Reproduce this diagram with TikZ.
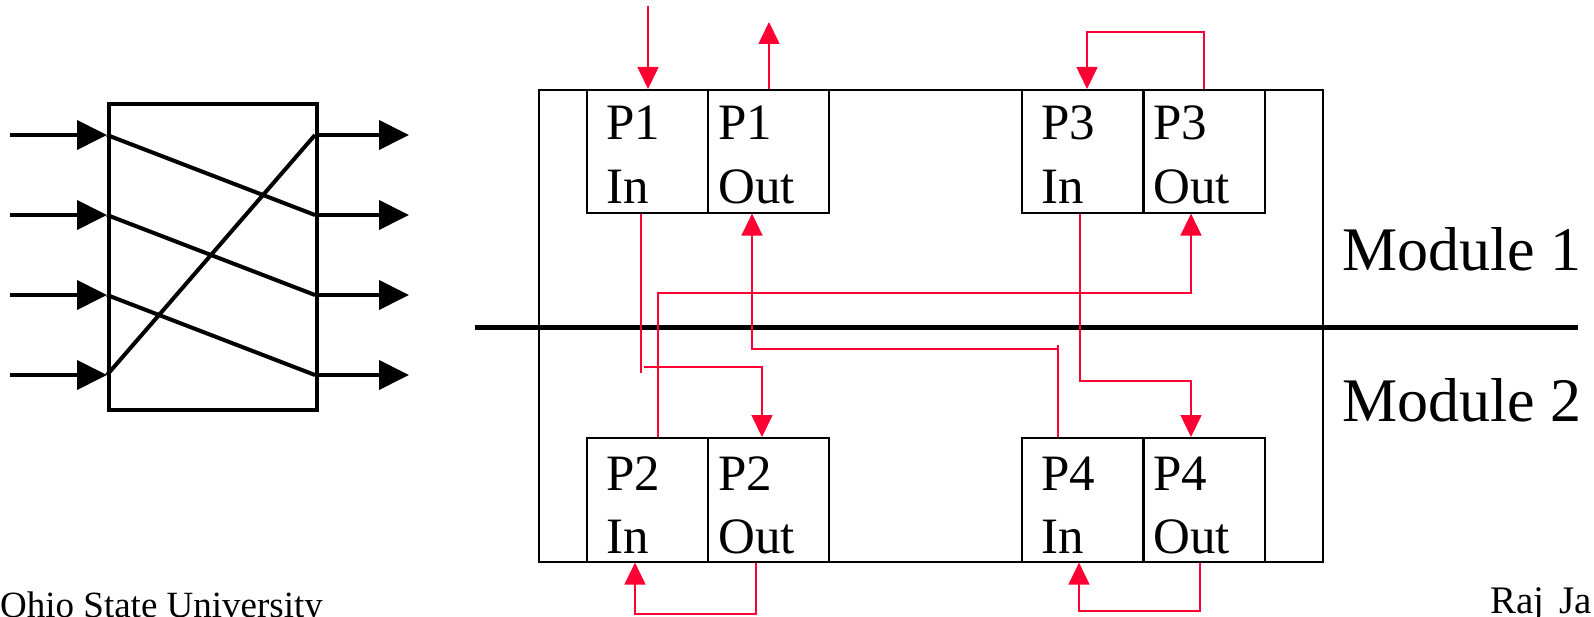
\documentclass[tikz,border=0pt]{standalone}
\usepackage{fontspec}
\setmainfont{Liberation Serif}
\usetikzlibrary{arrows.meta,calc}
\definecolor{linkred}{RGB}{255,0,51}
\tikzset{
  frame/.style={draw=black, line width=1.6pt},
  portbox/.style={draw=black, line width=1.6pt, minimum width=121pt, minimum height=123pt, inner sep=0pt, anchor=north west},
  plabel/.style={anchor=base west, inner sep=0pt, font=\fontsize{51}{61}\selectfont},
  modlabel/.style={anchor=base west, inner sep=0pt, font=\fontsize{62}{74}\selectfont},
  footlabel/.style={anchor=base west, inner sep=0pt, font=\fontsize{37}{44}\selectfont},
  thick line/.style={line width=4pt},
  bigarrow/.style={line width=4pt, -{Triangle[length=30pt,width=29pt]}},
  link/.style={draw=linkred, line width=1.6pt},
  linkarrow/.style={link, -{Triangle[length=22pt,width=21pt]}}
}
\begin{document}
\begin{tikzpicture}[x=1pt,y=-1pt]
\useasboundingbox (0,0) rectangle (1594,617);
% ---------- left crossbar box ----------
\node[draw=black, line width=4pt, minimum width=208pt, minimum height=306pt, inner sep=0pt, anchor=north west] (xbar) at (107,102) {};
\foreach \i/\y in {1/135,2/215,3/295,4/375} {
  \coordinate (in\i) at (107,\y);
  \coordinate (out\i) at (315,\y);
  \coordinate (src\i) at (10,\y);
  \coordinate (dst\i) at (409,\y);
}
\foreach \i in {1,2,3,4} {
  \draw[bigarrow] (src\i) -- (in\i);
  \draw[bigarrow] (out\i) -- (dst\i);
}
\draw[thick line] (in1) -- (out2);
\draw[thick line] (in2) -- (out3);
\draw[thick line] (in3) -- (out4);
\draw[thick line] (in4) -- (out1);
% ---------- right: modules ----------
\node[draw=black, line width=1.6pt, minimum width=784pt, minimum height=472pt, inner sep=0pt, anchor=north west] (chassis) at (538,89) {};
\coordinate (divL) at (475,327);
\coordinate (divR) at (1578,327);
\draw[line width=5pt] (divL) -- (divR);
% port boxes
\node[portbox] (p1in) at (586,89) {};
\node[portbox] (p1out) at (707,89) {};
\node[portbox] (p3in) at (1021,89) {};
\node[portbox] (p3out) at (1143,89) {};
\node[portbox, minimum height=124pt] (p2in) at (586,437) {};
\node[portbox, minimum height=124pt] (p2out) at (707,437) {};
\node[portbox, minimum height=124pt] (p4in) at (1021,437) {};
\node[portbox, minimum height=124pt] (p4out) at (1143,437) {};
% labels
\node[plabel] (p1inA) at ($(p1in.north west)+(20,51)$) {P1};
\node[plabel] (p1inB) at ($(p1in.north west)+(20,115)$) {In};
\node[plabel] (p1outA) at ($(p1out.north west)+(11,51)$) {P1};
\node[plabel] (p1outB) at ($(p1out.north west)+(11,115)$) {Out};
\node[plabel] (p3inA) at ($(p3in.north west)+(20,51)$) {P3};
\node[plabel] (p3inB) at ($(p3in.north west)+(20,115)$) {In};
\node[plabel] (p3outA) at ($(p3out.north west)+(10,51)$) {P3};
\node[plabel] (p3outB) at ($(p3out.north west)+(10,115)$) {Out};
\node[plabel] (p2inA) at ($(p2in.north west)+(20,53)$) {P2};
\node[plabel] (p2inB) at ($(p2in.north west)+(20,116)$) {In};
\node[plabel] (p2outA) at ($(p2out.north west)+(11,53)$) {P2};
\node[plabel] (p2outB) at ($(p2out.north west)+(11,116)$) {Out};
\node[plabel] (p4inA) at ($(p4in.north west)+(20,53)$) {P4};
\node[plabel] (p4inB) at ($(p4in.north west)+(20,116)$) {In};
\node[plabel] (p4outA) at ($(p4out.north west)+(10,53)$) {P4};
\node[plabel] (p4outB) at ($(p4out.north west)+(10,116)$) {Out};
\node[modlabel] (mod1) at (1342,271) {Module 1};
\node[modlabel] (mod2) at (1342,421) {Module 2};
\node[footlabel] (osu) at (0,617) {Ohio State University};
\node[footlabel, font=\fontsize{39}{46}\selectfont] (author) at (1490,613) {Raj \hspace{5pt}Ja};
% ---------- red connectors ----------
\coordinate (extIn) at (648,6);
\coordinate (extOut) at (769,22);
\draw[linkarrow] (extIn) -- (p1in.north -| extIn);
\draw[linkarrow] (p1out.north -| extOut) -- (extOut);
% P3 loop
\draw[linkarrow] (p3out.north -| 1204,0) |- (1087,32) -- (p3in.north -| 1087,0);
% P1 In -> P2 Out
\draw[link] (p1in.south -| 641,0) -- (641,373);
\draw[linkarrow] (644,367) -| (p2out.north -| 762,0);
% P4 In -> P1 Out
\draw[link] (p4in.north -| 1058,0) -- (1058,345);
\draw[linkarrow] (1058,349) -| (p1out.south -| 752,0);
% P2 In -> P3 Out
\draw[linkarrow] (p2in.north -| 658,0) |- (1191,293) -- (p3out.south -| 1191,0);
% P3 In -> P4 Out
\draw[linkarrow] (p3in.south -| 1080,0) |- (1191,381) -- (p4out.north -| 1191,0);
% P2 loop
\draw[linkarrow] (p2out.south -| 756,0) |- (635,614) -- (p2in.south -| 635,0);
% P4 loop
\draw[linkarrow] (p4out.south -| 1200,0) |- (1079,611) -- (p4in.south -| 1079,0);
\end{tikzpicture}
\end{document}
